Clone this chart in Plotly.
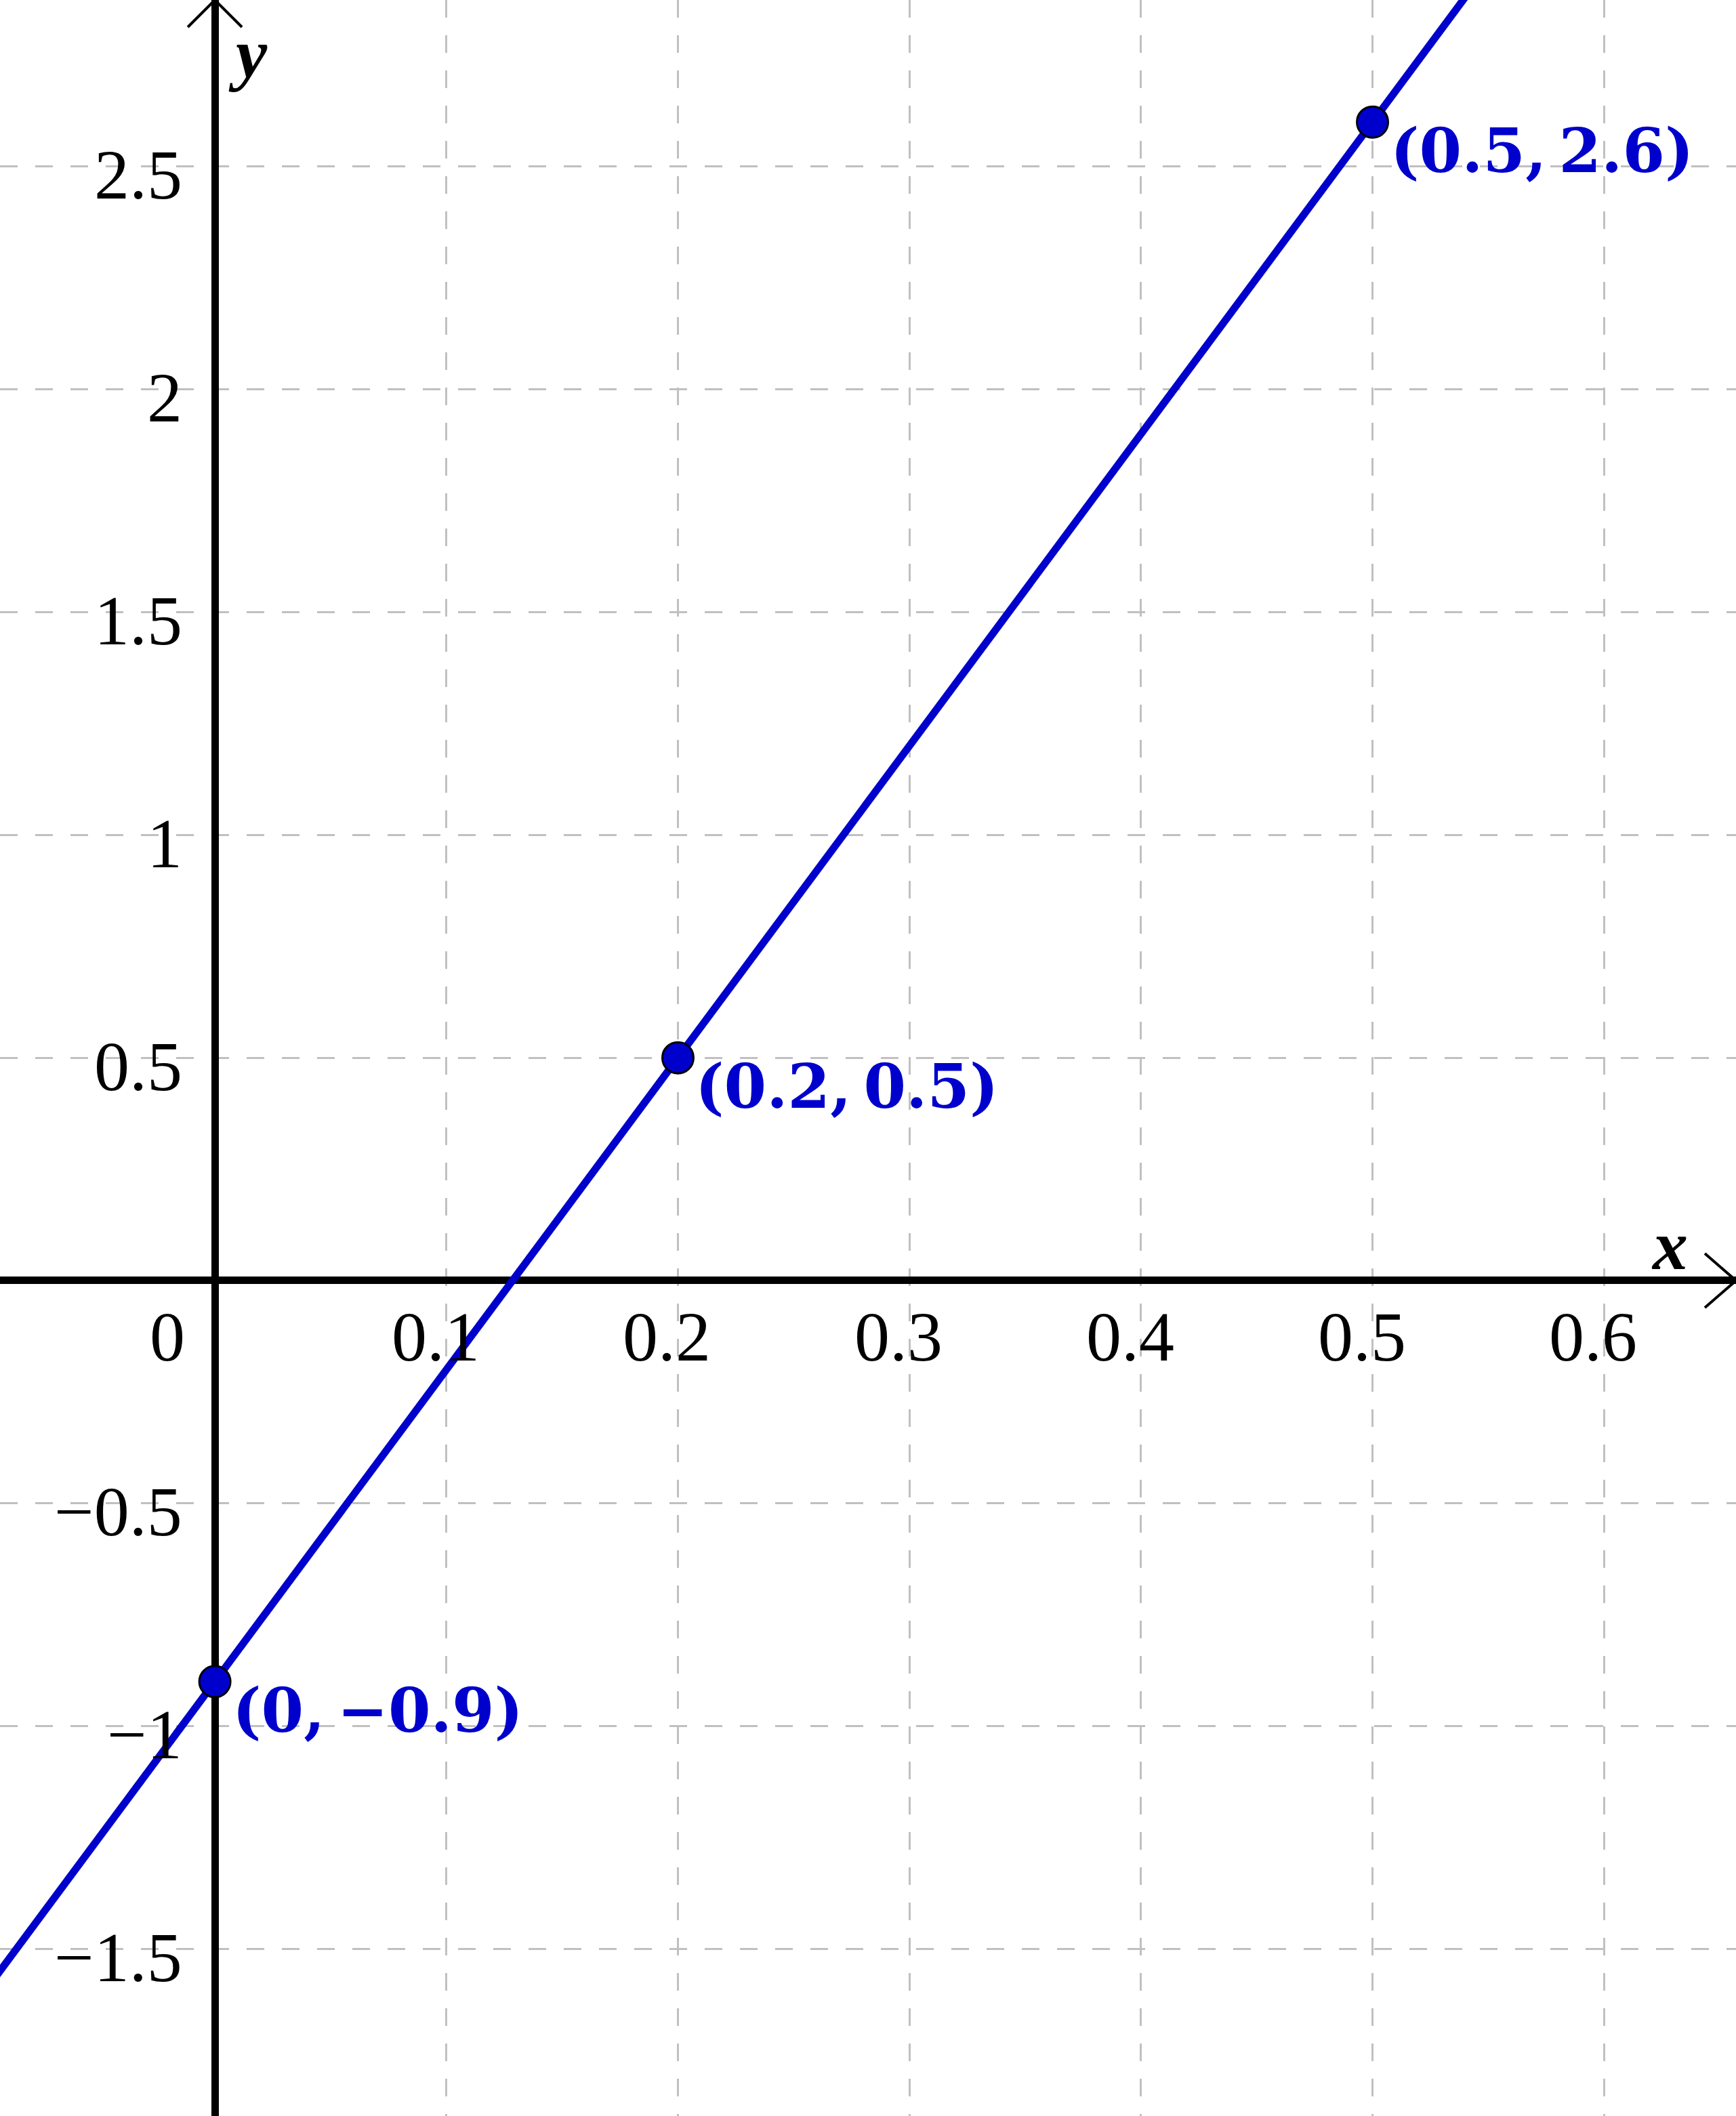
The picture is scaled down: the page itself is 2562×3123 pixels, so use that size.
import plotly.graph_objects as go

# points marked on the line
point_x = [0, 0.2, 0.5]
point_y = [-0.9, 0.5, 2.6]
point_labels = ["(0,\u2009\u22120.9)", "(0.2,\u20090.5)", "(0.5,\u20092.6)"]

# the line y = 7x - 0.9, read at two x values beyond the view
line_x = [-0.1, 0.7]
line_y = [-1.6, 4.0]

x_ticks = [0, 0.1, 0.2, 0.3, 0.4, 0.5, 0.6]
x_tick_text = ["0", "0.1", "0.2", "0.3", "0.4", "0.5", "0.6"]
y_ticks = [-1.5, -1, -0.5, 0.5, 1, 1.5, 2, 2.5]
y_tick_text = ["\u22121.5", "\u22121", "\u22120.5", "0.5", "1", "1.5", "2", "2.5"]

BLUE = "#0000cc"
GRID = "#c0c0c0"
SERIF = "Liberation Serif, Times New Roman, serif"
BOLD_SERIF = "DejaVu Serif, serif"

fig = go.Figure()

fig.add_trace(go.Scatter(x=line_x, y=line_y, mode="lines",
                         line=dict(color=BLUE, width=11), hoverinfo="skip"))
fig.add_trace(go.Scatter(x=point_x, y=point_y, mode="markers",
                         marker=dict(color=BLUE, size=46, line=dict(color="black", width=3))))

# point labels
for px_, py_, txt in zip(point_x, point_y, point_labels):
    fig.add_annotation(x=px_, y=py_, text="<b>" + txt + "</b>", showarrow=False,
                       xanchor="left", yanchor="middle", xshift=24, yshift=-42,
                       font=dict(family=BOLD_SERIF, size=90, color=BLUE))

# tick labels along the axes
for v, t in zip(x_ticks, x_tick_text):
    if v == 0:
        fig.add_annotation(x=v, y=0, text=t, showarrow=False, xanchor="right",
                           yanchor="middle", xshift=-42, yshift=-83,
                           font=dict(family=SERIF, size=104, color="black"))
    else:
        fig.add_annotation(x=v, y=0, text=t, showarrow=False, xanchor="center",
                           yanchor="middle", xshift=-16, yshift=-83,
                           font=dict(family=SERIF, size=104, color="black"))

for v, t in zip(y_ticks, y_tick_text):
    fig.add_annotation(x=0, y=v, text=t, showarrow=False, xanchor="right",
                       yanchor="middle", xshift=-46, yshift=-12,
                       font=dict(family=SERIF, size=104, color="black"))

# axis names
fig.add_annotation(x=1, xref="paper", y=0, yref="y", text="<b><i>x</i></b>", showarrow=False,
                   xanchor="center", yanchor="middle", xshift=-98, yshift=52,
                   font=dict(family=SERIF, size=104, color="black"))
fig.add_annotation(x=0, xref="x", y=1, yref="paper", text="<b><i>y</i></b>", showarrow=False,
                   xanchor="center", yanchor="middle", xshift=49, yshift=-78,
                   font=dict(family=SERIF, size=104, color="black"))

# open arrow heads at the axis ends
fig.add_shape(type="path", xref="paper", yref="y", xsizemode="pixel", ysizemode="pixel",
              xanchor=1, yanchor=0, path="M -46,40 L 0,0 L -46,-40",
              line=dict(color="black", width=4))
fig.add_shape(type="path", xref="x", yref="paper", xsizemode="pixel", ysizemode="pixel",
              xanchor=0, yanchor=1, path="M -40,-40 L 0,0 L 40,-40",
              line=dict(color="black", width=4))

fig.update_xaxes(range=[-0.0928, 0.657], dtick=0.1, tick0=0, showticklabels=False,
                 showgrid=True, gridcolor=GRID, gridwidth=3, griddash="26px,26px",
                 zeroline=True, zerolinecolor="black", zerolinewidth=11, showline=False)
fig.update_yaxes(range=[-1.875, 2.874], dtick=0.5, tick0=0, showticklabels=False,
                 showgrid=True, gridcolor=GRID, gridwidth=3, griddash="26px,26px",
                 zeroline=True, zerolinecolor="black", zerolinewidth=11, showline=False)

fig.update_layout(width=2562, height=3123, margin=dict(l=0, r=0, t=0, b=0),
                  plot_bgcolor="white", paper_bgcolor="white", showlegend=False)

fig.write_html("out.html", config={"displayModeBar": False},
               post_script="document.body.style.margin='0';")
